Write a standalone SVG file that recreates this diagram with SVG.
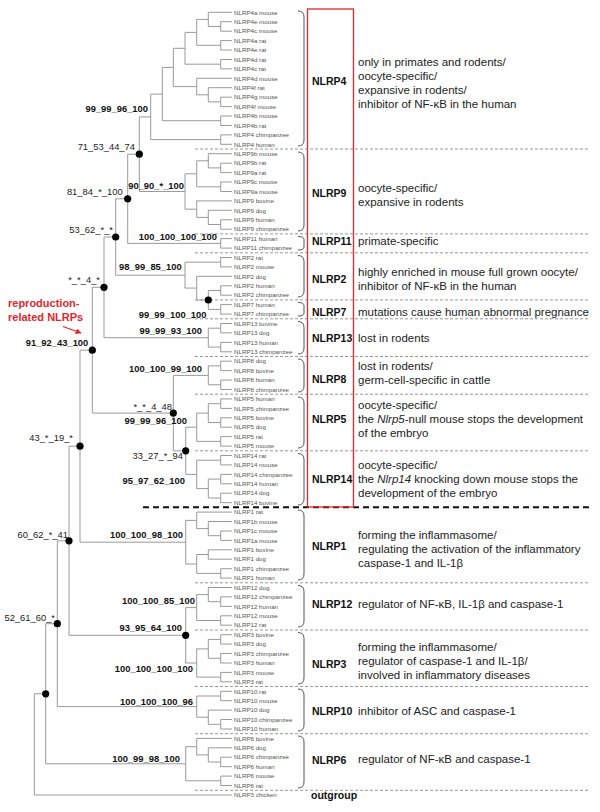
<svg xmlns="http://www.w3.org/2000/svg" width="600" height="812" viewBox="0 0 600 812">
<defs>
<style>
.t{fill:none;stroke:#9a9a9a;stroke-width:1}
.d{fill:#000}
.lf{font-family:"Liberation Sans",Arial,sans-serif;font-size:6.2px;fill:#555}
.bs{font-family:"Liberation Sans",Arial,sans-serif;font-size:9.4px;font-weight:bold;fill:#111;text-anchor:end}
.rs{font-family:"Liberation Sans",Arial,sans-serif;font-size:9.4px;fill:#222;text-anchor:end}
.gl{font-family:"Liberation Sans",Arial,sans-serif;font-size:10.5px;font-weight:bold;fill:#111}
.ds{font-family:"Liberation Sans",Arial,sans-serif;font-size:11.5px;fill:#222}
.br{fill:none;stroke:#555;stroke-width:1}
.sep{stroke:#999;stroke-width:1;stroke-dasharray:3 2}
</style>
<marker id="ah" viewBox="0 0 10 10" refX="9" refY="5" markerWidth="5" markerHeight="5" orient="auto"><path d="M0 0L10 5L0 10z" fill="#e3262b"/></marker>
</defs>
<rect width="600" height="812" fill="#fff"/>

<g id="separators">
<line class="sep" x1="195" y1="149" x2="590" y2="149"/>
<line class="sep" x1="195" y1="233.9" x2="590" y2="233.9"/>
<line class="sep" x1="195" y1="252.8" x2="590" y2="252.8"/>
<line class="sep" x1="195" y1="299.9" x2="590" y2="299.9"/>
<line class="sep" x1="195" y1="318.8" x2="590" y2="318.8"/>
<line class="sep" x1="195" y1="356.5" x2="590" y2="356.5"/>
<line class="sep" x1="195" y1="394.2" x2="590" y2="394.2"/>
<line class="sep" x1="195" y1="450.8" x2="590" y2="450.8"/>
<line x1="143" y1="507.2" x2="590" y2="507.2" stroke="#111" stroke-width="2" stroke-dasharray="6 4"/>
<line class="sep" x1="195" y1="582.8" x2="590" y2="582.8"/>
<line class="sep" x1="195" y1="630" x2="590" y2="630"/>
<line class="sep" x1="195" y1="686.5" x2="590" y2="686.5"/>
<line class="sep" x1="195" y1="733.7" x2="590" y2="733.7"/>
<line class="sep" x1="195" y1="790.3" x2="590" y2="790.3"/>
</g>

<g id="connectors">
<path class="t" d="M232 21.7H220.7V31.2H232M232 12.3H208.3V26.5H220.7M232 40.6H220.7V50H232M208.3 19.4H196.7V45.3H220.7M232 59.5H220.7V68.9H232M196.7 32.4H185V64.2H220.7M232 97.2H220.7V106.6H232M232 87.7H208.3V101.9H220.7M232 78.3H196.7V94.8H208.3M185 48.3H173.3V86.6H196.7M232 116H220.7V125.5H232M173.3 67.4H162.3V120.7H220.7M232 134.9H220.7V144.3H232M162.3 94.1H150.7V139.6H220.7"/>
<path class="t" d="M232 163.2H220.7V172.6H232M232 153.7H208.3V167.9H220.7M232 182H220.7V191.5H232M208.3 160.8H196.7V186.8H220.7M232 219.8H220.7V229.2H232M232 210.3H208.3V224.5H220.7M232 200.9H196.7V217.4H208.3M196.7 173.8H185V209.2H196.7M150.7 116.9H139.3V191.5H185M232 238.6H220.7V248.1H232M139.3 154.2H127.7V243.4H220.7"/>
<path class="t" d="M232 257.5H220.7V266.9H232M232 285.8H220.7V295.2H232M232 304.6H220.7V314.1H232M220.7 290.5H208.3V309.4H220.7M232 276.3H196.7V300H208.3M220.7 262.2H185V288.1H196.7M127.7 198.8H115.7V275.2H185"/>
<path class="t" d="M232 323.5H220.7V332.9H232M232 342.4H220.7V351.8H232M220.7 328.2H208.3V347.1H220.7M115.7 237H104V337.7H208.3"/>
<path class="t" d="M232 361.2H220.7V370.6H232M232 380.1H220.7V389.5H232M220.7 365.9H208.3V384.8H220.7"/>
<path class="t" d="M232 398.9H220.7V408.4H232M232 417.8H220.7V427.2H232M220.7 403.7H208.3V422.5H220.7M232 436.6H220.7V446.1H232M208.3 413.1H196.7V441.4H220.7"/>
<path class="t" d="M232 455.5H220.7V464.9H232M232 474.4H220.7V483.8H232M232 493.2H220.7V502.7H232M220.7 479.1H208.3V498H220.7M220.7 460.2H196.7V488.6H208.3"/>
<path class="t" d="M196.7 427.2H185.7V474.4H196.7M208.3 375.4H173.3V450.8H185.7M104 287.3H92.3V413.1H173.3"/>
<path class="t" d="M232 531H220.7V540.4H232M232 521.5H208.3V535.7H220.7M232 512.1H196.7V528.6H208.3M232 549.8H208.3V559.2H232M232 568.7H220.7V578.1H232M208.3 554.5H196.7V573.4H220.7M196.7 520.4H185.7V564H196.7M92.3 350.2H80V542.2H185.7"/>
<path class="t" d="M232 596.9H220.7V606.4H232M232 587.5H208.3V601.7H220.7M232 615.8H220.7V625.2H232M208.3 594.6H196.7V620.5H220.7"/>
<path class="t" d="M232 634.7H220.7V644.1H232M232 653.5H220.7V663H232M220.7 639.4H208.3V658.3H220.7M232 672.4H220.7V681.8H232M208.3 648.9H196.7V677.1H220.7M196.7 607.6H185.7V663H196.7M80 446.2H69V635.3H185.7"/>
<path class="t" d="M232 691.3H220.7V700.7H232M232 719.5H220.7V729H232M232 710.1H208.3V724.3H220.7M220.7 696H196.7V717.2H208.3M69 540.8H57.3V706.6H196.7"/>
<path class="t" d="M232 757.2H220.7V766.7H232M232 747.8H208.3V762H220.7M232 738.4H196.7V754.9H208.3M232 776.1H220.7V785.5H232M196.7 746.7H185.7V780.8H220.7M57.3 623.7H45.7V763.8H185.7M45.7 693.8H34.3V795H232"/>
<line x1="63" y1="326.5" x2="81" y2="333" stroke="#e3262b" stroke-width="1.2" marker-end="url(#ah)"/>
</g>

<g id="nodes-dots">
<circle class="d" cx="139.3" cy="154.2" r="3.6"/>
<circle class="d" cx="127.7" cy="198.8" r="3.6"/>
<circle class="d" cx="115.7" cy="237" r="3.6"/>
<circle class="d" cx="104" cy="287.3" r="3.6"/>
<circle class="d" cx="208.3" cy="300" r="3.6"/>
<circle class="d" cx="92.3" cy="350.2" r="3.6"/>
<circle class="d" cx="173.3" cy="413.1" r="3.6"/>
<circle class="d" cx="185.7" cy="450.8" r="3.6"/>
<circle class="d" cx="80" cy="446.2" r="3.6"/>
<circle class="d" cx="69" cy="540.8" r="3.6"/>
<circle class="d" cx="57.3" cy="623.7" r="3.6"/>
<circle class="d" cx="185.7" cy="635.3" r="3.6"/>
<circle class="d" cx="45.7" cy="693.8" r="3.6"/>
</g>

<g id="support-values">
<text class="rs" x="135" y="150">71_53_44_74</text>
<text class="rs" x="122.7" y="195">81_84_*_100</text>
<text class="rs" x="113" y="233.3">53_62_*_*</text>
<text class="rs" x="100" y="283.3">*_*_4_*</text>
<text class="rs" x="172" y="410">*_*_4_48</text>
<text class="rs" x="183" y="458.6">33_27_*_94</text>
<text class="rs" x="73" y="441">43_*_19_*</text>
<text class="rs" x="68" y="537.6">60_62_*_41</text>
<text class="rs" x="55" y="621">52_61_60_*</text>
<text class="bs" x="148" y="111.7">99_99_96_100</text>
<text class="bs" x="184" y="189">90_90_*_100</text>
<text class="bs" x="217" y="240">100_100_100_100</text>
<text class="bs" x="181.7" y="270">98_99_85_100</text>
<text class="bs" x="206.5" y="317.6">99_99_100_100</text>
<text class="bs" x="202" y="334.3">99_99_93_100</text>
<text class="bs" x="88.3" y="345.6">91_92_43_100</text>
<text class="bs" x="202" y="371.6">100_100_99_100</text>
<text class="bs" x="187" y="424.3">99_99_96_100</text>
<text class="bs" x="185" y="484">95_97_62_100</text>
<text class="bs" x="183" y="537.6">100_100_98_100</text>
<text class="bs" x="195" y="604.3">100_100_85_100</text>
<text class="bs" x="182" y="631">93_95_64_100</text>
<text class="bs" x="193" y="671.6">100_100_100_100</text>
<text class="bs" x="193" y="705">100_100_100_96</text>
<text class="bs" x="180" y="762.3">100_99_98_100</text>
</g>

<g id="reproduction-label" font-family="Liberation Sans, Arial, sans-serif" font-size="11px" font-weight="bold" fill="#e3262b">
<text x="8" y="307">reproduction-</text>
<text x="8" y="321">related NLRPs</text>
</g>

<rect id="reproduction-box" x="307.5" y="9" width="46" height="498" fill="none" stroke="#e3262b" stroke-width="1.3"/>

<g id="leaves" class="lf">
<text class="lf" x="234" y="14.5">NLRP4a mouse</text>
<text class="lf" x="234" y="23.9">NLRP4e mouse</text>
<text class="lf" x="234" y="33.4">NLRP4c mouse</text>
<text class="lf" x="234" y="42.8">NLRP4a rat</text>
<text class="lf" x="234" y="52.2">NLRP4e rat</text>
<text class="lf" x="234" y="61.7">NLRP4d rat</text>
<text class="lf" x="234" y="71.1">NLRP4c rat</text>
<text class="lf" x="234" y="80.5">NLRP4d mouse</text>
<text class="lf" x="234" y="89.9">NLRP4f rat</text>
<text class="lf" x="234" y="99.4">NLRP4g mouse</text>
<text class="lf" x="234" y="108.8">NLRP4f mouse</text>
<text class="lf" x="234" y="118.2">NLRP4b mouse</text>
<text class="lf" x="234" y="127.7">NLRP4b rat</text>
<text class="lf" x="234" y="137.1">NLRP4 chimpanzee</text>
<text class="lf" x="234" y="146.5">NLRP4 human</text>
<text class="lf" x="234" y="155.9">NLRP9b mouse</text>
<text class="lf" x="234" y="165.4">NLRP9b rat</text>
<text class="lf" x="234" y="174.8">NLRP9a rat</text>
<text class="lf" x="234" y="184.2">NLRP9c mouse</text>
<text class="lf" x="234" y="193.7">NLRP9a mouse</text>
<text class="lf" x="234" y="203.1">NLRP9 bovine</text>
<text class="lf" x="234" y="212.5">NLRP9 dog</text>
<text class="lf" x="234" y="222">NLRP9 human</text>
<text class="lf" x="234" y="231.4">NLRP9 chimpanzee</text>
<text class="lf" x="234" y="240.8">NLRP11 human</text>
<text class="lf" x="234" y="250.3">NLRP11 chimpanzee</text>
<text class="lf" x="234" y="259.7">NLRP2 rat</text>
<text class="lf" x="234" y="269.1">NLRP2 mouse</text>
<text class="lf" x="234" y="278.5">NLRP2 dog</text>
<text class="lf" x="234" y="288">NLRP2 human</text>
<text class="lf" x="234" y="297.4">NLRP2 chimpanzee</text>
<text class="lf" x="234" y="306.8">NLRP7 human</text>
<text class="lf" x="234" y="316.3">NLRP7 chimpanzee</text>
<text class="lf" x="234" y="325.7">NLRP13 bovine</text>
<text class="lf" x="234" y="335.1">NLRP13 dog</text>
<text class="lf" x="234" y="344.6">NLRP13 human</text>
<text class="lf" x="234" y="354">NLRP13 chimpanzee</text>
<text class="lf" x="234" y="363.4">NLRP8 dog</text>
<text class="lf" x="234" y="372.8">NLRP8 bovine</text>
<text class="lf" x="234" y="382.3">NLRP8 human</text>
<text class="lf" x="234" y="391.7">NLRP8 chimpanzee</text>
<text class="lf" x="234" y="401.1">NLRP5 human</text>
<text class="lf" x="234" y="410.6">NLRP5 chimpanzee</text>
<text class="lf" x="234" y="420">NLRP5 bovine</text>
<text class="lf" x="234" y="429.4">NLRP5 dog</text>
<text class="lf" x="234" y="438.8">NLRP5 rat</text>
<text class="lf" x="234" y="448.3">NLRP5 mouse</text>
<text class="lf" x="234" y="457.7">NLRP14 rat</text>
<text class="lf" x="234" y="467.1">NLRP14 mouse</text>
<text class="lf" x="234" y="476.6">NLRP14 chimpanzee</text>
<text class="lf" x="234" y="486">NLRP14 human</text>
<text class="lf" x="234" y="495.4">NLRP14 dog</text>
<text class="lf" x="234" y="504.9">NLRP14 bovine</text>
<text class="lf" x="234" y="514.3">NLRP1 rat</text>
<text class="lf" x="234" y="523.7">NLRP1b mouse</text>
<text class="lf" x="234" y="533.2">NLRP1c mouse</text>
<text class="lf" x="234" y="542.6">NLRP1a mouse</text>
<text class="lf" x="234" y="552">NLRP1 bovine</text>
<text class="lf" x="234" y="561.4">NLRP1 dog</text>
<text class="lf" x="234" y="570.9">NLRP1 chimpanzee</text>
<text class="lf" x="234" y="580.3">NLRP1 human</text>
<text class="lf" x="234" y="589.7">NLRP12 dog</text>
<text class="lf" x="234" y="599.1">NLRP12 chimpanzee</text>
<text class="lf" x="234" y="608.6">NLRP12 human</text>
<text class="lf" x="234" y="618">NLRP12 mouse</text>
<text class="lf" x="234" y="627.4">NLRP12 rat</text>
<text class="lf" x="234" y="636.9">NLRP3 bovine</text>
<text class="lf" x="234" y="646.3">NLRP3 dog</text>
<text class="lf" x="234" y="655.7">NLRP3 chimpanzee</text>
<text class="lf" x="234" y="665.2">NLRP3 human</text>
<text class="lf" x="234" y="674.6">NLRP3 mouse</text>
<text class="lf" x="234" y="684">NLRP3 rat</text>
<text class="lf" x="234" y="693.5">NLRP10 rat</text>
<text class="lf" x="234" y="702.9">NLRP10 mouse</text>
<text class="lf" x="234" y="712.3">NLRP10 dog</text>
<text class="lf" x="234" y="721.7">NLRP10 chimpanzee</text>
<text class="lf" x="234" y="731.2">NLRP10 human</text>
<text class="lf" x="234" y="740.6">NLRP6 bovine</text>
<text class="lf" x="234" y="750">NLRP6 dog</text>
<text class="lf" x="234" y="759.4">NLRP6 chimpanzee</text>
<text class="lf" x="234" y="768.9">NLRP6 human</text>
<text class="lf" x="234" y="778.3">NLRP6 mouse</text>
<text class="lf" x="234" y="787.7">NLRP6 rat</text>
<text class="lf" x="234" y="797.2">NLRP3 chicken</text>
</g>

<g id="NLRP4"><path class="br" d="M298 11Q304 11 304 17V140Q304 146 298 146"/><text class="gl" x="312" y="84.8">NLRP4</text>
<text class="ds" x="358" y="65.7">only in primates and rodents/</text><text class="ds" x="358" y="79.7">oocyte-specific/</text><text class="ds" x="358" y="93.7">expansive in rodents/</text><text class="ds" x="358" y="107.7">inhibitor of NF-κB in the human</text></g>
<g id="NLRP9"><path class="br" d="M298 152Q304 152 304 158V225Q304 231 298 231"/><text class="gl" x="312" y="197">NLRP9</text>
<text class="ds" x="358" y="191.7">oocyte-specific/</text><text class="ds" x="358" y="205.7">expansive in rodents</text></g>
<g id="NLRP11"><path class="br" d="M298 236.5Q304 236.5 304 239.5V247Q304 250 298 250"/><text class="gl" x="312" y="244.5">NLRP11</text>
<text class="ds" x="358" y="244.7">primate-specific</text></g>
<g id="NLRP2"><path class="br" d="M298 255.5Q304 255.5 304 261.5V291Q304 297 298 297"/><text class="gl" x="312" y="283">NLRP2</text>
<text class="ds" x="358" y="276.3">highly enriched in mouse full grown oocyte/</text><text class="ds" x="358" y="290.3">inhibitor of NF-κB in the human</text></g>
<g id="NLRP7"><path class="br" d="M298 302.5Q304 302.5 304 305.5V313Q304 316 298 316"/><text class="gl" x="312" y="315.5">NLRP7</text>
<text class="ds" x="358" y="315.7">mutations cause human abnormal pregnance</text></g>
<g id="NLRP13"><path class="br" d="M298 321.5Q304 321.5 304 327.5V348Q304 354 298 354"/><text class="gl" x="312" y="342">NLRP13</text>
<text class="ds" x="358" y="342.3">lost in rodents</text></g>
<g id="NLRP8"><path class="br" d="M298 359Q304 359 304 365V386Q304 392 298 392"/><text class="gl" x="312" y="382.8">NLRP8</text>
<text class="ds" x="358" y="370">lost in rodents/</text><text class="ds" x="358" y="384">germ-cell-specific in cattle</text></g>
<g id="NLRP5"><path class="br" d="M298 397Q304 397 304 403V442Q304 448 298 448"/><text class="gl" x="312" y="423">NLRP5</text>
<text class="ds" x="358" y="409">oocyte-specific/</text><text class="ds" x="358" y="423.3">the <tspan font-style="italic">Nlrp5</tspan>-null mouse stops the development</text><text class="ds" x="358" y="437.3">of the embryo</text></g>
<g id="NLRP14"><path class="br" d="M298 453.5Q304 453.5 304 459.5V499Q304 505 298 505"/><text class="gl" x="312" y="482.8">NLRP14</text>
<text class="ds" x="358" y="469">oocyte-specific/</text><text class="ds" x="358" y="483">the <tspan font-style="italic">Nlrp14</tspan> knocking down mouse stops the</text><text class="ds" x="358" y="497">development of the embryo</text></g>
<g id="NLRP1"><path class="br" d="M298 510Q304 510 304 516V574Q304 580 298 580"/><text class="gl" x="312" y="549.5">NLRP1</text>
<text class="ds" x="358" y="539">forming the inflammasome/</text><text class="ds" x="358" y="553">regulating the activation of the inflammatory</text><text class="ds" x="358" y="567">caspase-1 and IL-1β</text></g>
<g id="NLRP12"><path class="br" d="M298 585.5Q304 585.5 304 591.5V621Q304 627 298 627"/><text class="gl" x="312" y="607.8">NLRP12</text>
<text class="ds" x="358" y="608">regulator of NF-κB, IL-1β and caspase-1</text></g>
<g id="NLRP3"><path class="br" d="M298 632.5Q304 632.5 304 638.5V678Q304 684 298 684"/><text class="gl" x="312" y="668">NLRP3</text>
<text class="ds" x="358" y="650.7">forming the inflammasome/</text><text class="ds" x="358" y="665">regulator of caspase-1 and IL-1β/</text><text class="ds" x="358" y="679.3">involved in inflammatory diseases</text></g>
<g id="NLRP10"><path class="br" d="M298 689Q304 689 304 695V725Q304 731 298 731"/><text class="gl" x="312" y="714.5">NLRP10</text>
<text class="ds" x="358" y="714.7">inhibitor of ASC and caspase-1</text></g>
<g id="NLRP6"><path class="br" d="M298 736Q304 736 304 742V782Q304 788 298 788"/><text class="gl" x="312" y="763.8">NLRP6</text>
<text class="ds" x="358" y="762.7">regulator of NF-κB and caspase-1</text></g>
<g id="outgroup"><text class="gl" x="311" y="799">outgroup</text></g>
</svg>
